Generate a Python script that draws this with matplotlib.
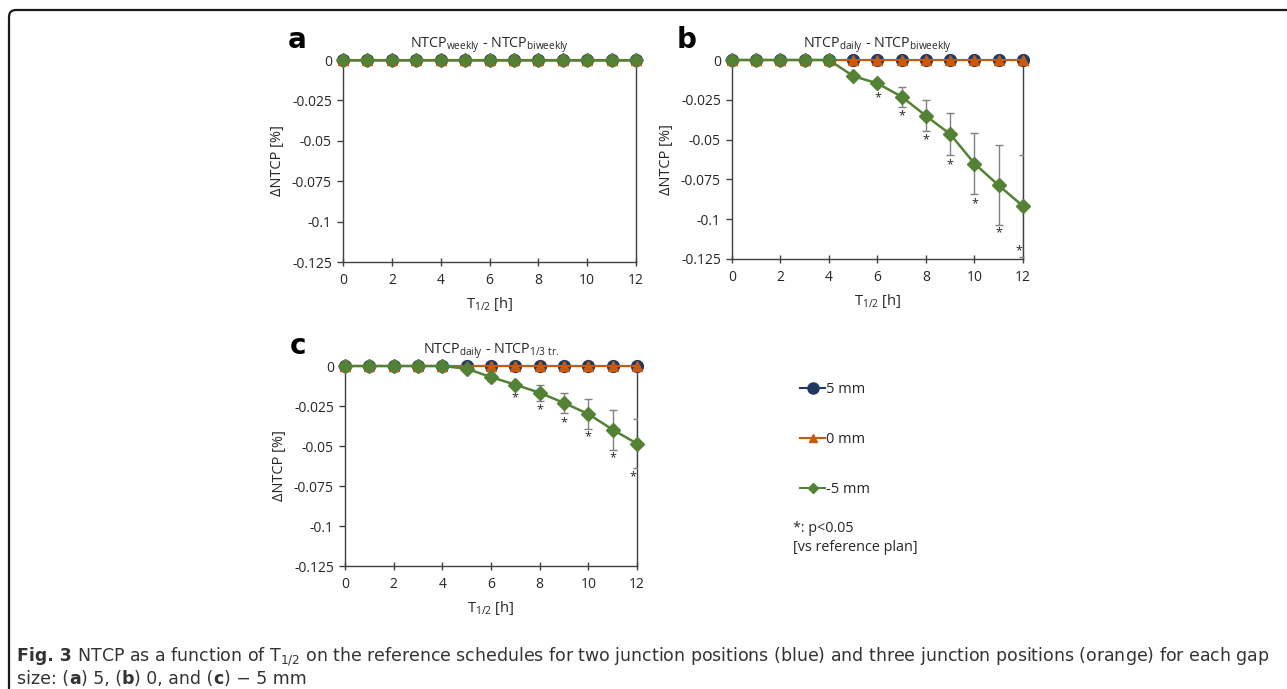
import matplotlib
matplotlib.use("Agg")
import matplotlib.pyplot as plt
from matplotlib.lines import Line2D
from matplotlib.patches import FancyBboxPatch
from matplotlib.transforms import IdentityTransform

plt.rcParams['font.family'] = ['Open Sans', 'DejaVu Sans']
plt.rcParams['mathtext.default'] = 'regular'

# data
t_half = list(range(13))
zero_line = [0.0] * 13

# panel b: NTCP_daily - NTCP_biweekly, -5 mm
b_green = [0, 0, 0, 0, 0, -0.0101, -0.0147, -0.0231, -0.0351, -0.0466, -0.0651, -0.0788, -0.0918]
b_err = [0, 0, 0, 0, 0, 0, 0, 0.0063, 0.0098, 0.0132, 0.0191, 0.0251, 0.032]
b_star_x = [6, 7, 8, 9, 10, 11, 11.85]
b_star_y = [-0.0237, -0.035, -0.0504, -0.066, -0.0903, -0.1086, -0.1197]

# panel c: NTCP_daily - NTCP_1/3 tr., -5 mm
c_green = [0, 0, 0, 0, 0, -0.0017, -0.0069, -0.0117, -0.0167, -0.0231, -0.030, -0.0398, -0.0485]
c_err = [0, 0, 0, 0, 0, 0, 0.0024, 0, 0.005, 0.0063, 0.0095, 0.0124, 0.0151]
c_star_x = [7, 8, 9, 10, 11, 11.85]
c_star_y = [-0.020, -0.0273, -0.0354, -0.0444, -0.0575, -0.0694]

series_labels = ['5 mm', '0 mm', '-5 mm']
ytick_vals = [0, -0.025, -0.05, -0.075, -0.1, -0.125]
ytick_labels = ['0', '-0.025', '-0.05', '-0.075', '-0.1', '-0.125']

blue = '#203864'
orange = '#C55A11'
green = '#548235'
dark = '#262626'

fig = plt.figure(figsize=(12.87, 6.89), dpi=100)
W, H = 1287, 689


def px_axes(l, r, top, bottom):
    return fig.add_axes([l / W, 1 - bottom / H, (r - l) / W, (bottom - top) / H])


def setup(ax, title, letter):
    ax.set_xlim(0, 12)
    ax.set_ylim(-0.125, 0)
    ax.set_xticks(range(0, 13, 2))
    ax.set_yticks(ytick_vals)
    ax.set_yticklabels(ytick_labels)
    ax.spines['top'].set_visible(False)
    for s in ['left', 'bottom', 'right']:
        ax.spines[s].set_color('#404040')
        ax.spines[s].set_linewidth(1.0)
    ax.tick_params(axis='x', direction='inout', length=6, width=1, color='#404040',
                   labelsize=10, labelcolor=dark, pad=5)
    ax.tick_params(axis='y', direction='out', length=4, width=1, color='#404040',
                   labelsize=10, labelcolor=dark, pad=4)
    ax.set_xlabel('T$_{1/2}$ [h]', fontsize=10.5, color=dark, labelpad=5)
    ax.set_ylabel('ΔNTCP [%]', fontsize=10.5, color=dark, labelpad=5)
    ax.set_title(title, fontsize=10.3, color=dark, pad=9)
    ax.text(-0.19, 1.10, letter, transform=ax.transAxes, fontsize=20,
            fontweight='bold', family='DejaVu Sans', color='black', va='center')


def draw_series(ax, green_vals, err=None, sx=None, sy=None):
    ax.plot(t_half, zero_line, color=blue, marker='o', markersize=8.5, lw=1.5,
            clip_on=False, zorder=3)
    ax.plot(t_half, zero_line, color=orange, marker='^', markersize=7, lw=1.5,
            clip_on=False, zorder=4)
    if err is not None:
        ax.errorbar(t_half, green_vals, yerr=err, fmt='none', ecolor='#808080',
                    elinewidth=1, capsize=3, capthick=1, zorder=4)
    ax.plot(t_half, green_vals, color=green, marker='D', markersize=7, lw=1.8,
            clip_on=False, zorder=5)
    if sx is not None:
        for x, y in zip(sx, sy):
            ax.text(x, y, '*', ha='center', va='center', fontsize=9, color=dark)


ax_a = px_axes(343, 636, 60, 262)
setup(ax_a, 'NTCP$_{weekly}$ - NTCP$_{biweekly}$', 'a')
draw_series(ax_a, zero_line)

ax_b = px_axes(732, 1023, 60, 259)
setup(ax_b, 'NTCP$_{daily}$ - NTCP$_{biweekly}$', 'b')
draw_series(ax_b, b_green, b_err, b_star_x, b_star_y)

ax_c = px_axes(345, 637, 366, 566)
setup(ax_c, 'NTCP$_{daily}$ - NTCP$_{1/3\\ tr.}$', 'c')
draw_series(ax_c, c_green, c_err, c_star_x, c_star_y)

# legend
handles = [
    Line2D([], [], color=blue, marker='o', markersize=8, lw=1.5),
    Line2D([], [], color=orange, marker='^', markersize=6, lw=1.5),
    Line2D([], [], color=green, marker='D', markersize=5, lw=1.5),
]
fig.legend(handles, series_labels, loc='upper left', bbox_to_anchor=(787 / W, 1 - 369 / H),
           frameon=False, fontsize=10.5, handlelength=1.7, handletextpad=0.05,
           labelspacing=2.4, labelcolor=dark)
fig.text(793 / W, 1 - 538 / H, '*: p<0.05\n[vs reference plan]', fontsize=10.4,
         color=dark, va='center', linespacing=1.35)

# outer frame (top and left edges only)
frame = FancyBboxPatch((9, -20), 1400, H - 10 + 20, boxstyle='round,pad=0,rounding_size=7',
                       transform=IdentityTransform(), fill=False, ec='#1a1a1a', lw=1.6)
fig.patches.append(frame)

# caption
cap_size = 12.5
fig.canvas.draw()
renderer = fig.canvas.get_renderer()


def caption_line(pieces, x, y):
    for txt, bold in pieces:
        t = fig.text(x / W, 1 - y / H, txt, fontsize=cap_size, family='DejaVu Sans',
                     fontweight='bold' if bold else 'normal', color='#333333', va='baseline')
        x += t.get_window_extent(renderer).width
    return x


caption_line([('Fig. 3', True),
              (' NTCP as a function of T$_{1/2}$ on the reference schedules for two junction positions '
               '(blue) and three junction positions (orange) for each gap', False)], 17, 661)
caption_line([('size: (', False), ('a', True), (') 5, (', False), ('b', True),
              (') 0, and (', False), ('c', True), (') \u2212 5 mm', False)], 17, 684)

fig.savefig('out.png', dpi=100)
